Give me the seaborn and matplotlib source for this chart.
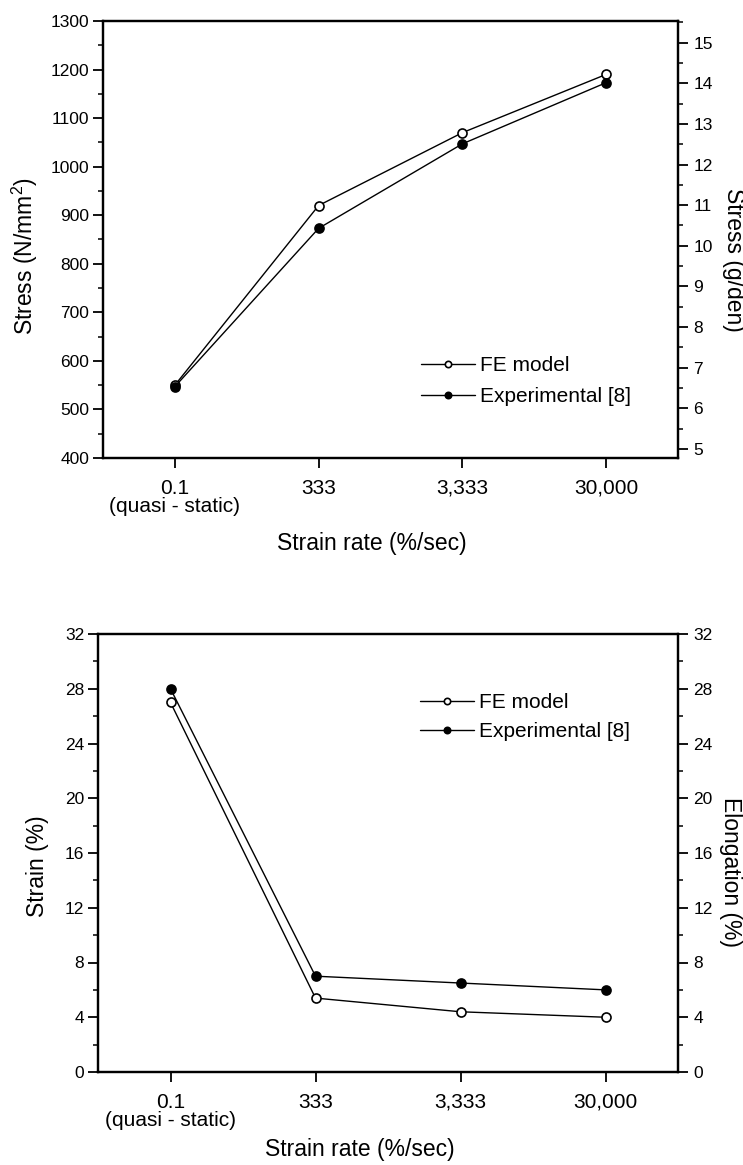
import matplotlib
matplotlib.use("Agg")
import matplotlib.pyplot as plt
import seaborn as sns
from matplotlib.ticker import MultipleLocator, FixedLocator

# Strain-rate categories (evenly spaced on the x axis)
rate_labels = ["0.1\n(quasi - static)", "333", "3,333", "30,000"]
rate_pos = [0, 1, 2, 3]

# Peak stress, N/mm^2
stress_fe = [550, 920, 1070, 1190]
stress_exp = [547, 873, 1047, 1173]

# Strain at break, %
strain_fe = [27.0, 5.4, 4.4, 4.0]
strain_exp = [28.0, 7.0, 6.5, 6.0]

# Conversion between N/mm^2 and g/den for the secondary stress axis
NMM2_PER_GDEN = 83.7

sns.set_style("ticks")
plt.rcParams["font.family"] = ["Liberation Sans", "DejaVu Sans"]
plt.rcParams["mathtext.fontset"] = "custom"
plt.rcParams["mathtext.rm"] = "Liberation Sans"
plt.rcParams["mathtext.it"] = "Liberation Sans"
for key in ("text.color", "axes.labelcolor", "xtick.color", "ytick.color",
            "axes.edgecolor"):
    plt.rcParams[key] = "black"

W, H = 743, 1165
fig = plt.figure(figsize=(W / 100, H / 100), dpi=100)
fig.patch.set_facecolor("white")

LW_SPINE = 1.6
TICK_FS = 12.5
XTICK_FS = 15
LABEL_FS = 16.5
LEG_FS = 15


def draw_series(ax, fe, exp):
    sns.lineplot(x=rate_pos, y=fe, ax=ax, color="black", linewidth=1.0,
                 marker="o", markersize=6.5, markerfacecolor="white",
                 markeredgecolor="black", markeredgewidth=1.2,
                 label="FE model", zorder=3)
    sns.lineplot(x=rate_pos, y=exp, ax=ax, color="black", linewidth=1.0,
                 marker="o", markersize=6.5, markerfacecolor="black",
                 markeredgecolor="black", markeredgewidth=1.2,
                 label="Experimental [8]", zorder=4)


def style_axes(ax, ax2):
    for a in (ax, ax2):
        for s in a.spines.values():
            s.set_linewidth(LW_SPINE)
            s.set_color("black")
            s.set_visible(True)
        a.set_facecolor("none")
    ax.set_xlim(-0.5, 3.5)
    ax.xaxis.set_major_locator(FixedLocator(rate_pos))
    ax.set_xticklabels(rate_labels, fontsize=XTICK_FS, linespacing=0.95)
    ax.tick_params(axis="x", which="major", direction="out", length=7,
                   width=1.3, pad=8, top=False, bottom=True, colors="black")
    ax.tick_params(axis="x", which="minor", bottom=False, top=False)
    ax.tick_params(axis="y", which="major", direction="out", length=7,
                   width=1.3, labelsize=TICK_FS, left=True, right=False,
                   pad=3, colors="black")
    ax.tick_params(axis="y", which="minor", direction="out", length=3.5,
                   width=1.1, left=True, right=False, colors="black")
    ax2.tick_params(axis="y", which="major", direction="out", length=7,
                    width=1.3, labelsize=TICK_FS, right=True, left=False,
                    pad=4, colors="black")
    ax2.tick_params(axis="y", which="minor", direction="out", length=3.5,
                    width=1.1, right=True, left=False, colors="black")


def place_legend(ax, x_px, y_px, spacing):
    leg = ax.legend(loc="upper left",
                    bbox_to_anchor=(x_px / W, 1 - y_px / H),
                    bbox_transform=fig.transFigure,
                    frameon=False, fontsize=LEG_FS, borderpad=0,
                    borderaxespad=0, handlelength=2.6, handletextpad=0.25,
                    labelspacing=spacing, markerscale=0.7)
    for t in leg.get_texts():
        t.set_color("black")
    return leg


# ---------------- Stress panel ----------------
ax1 = fig.add_axes([103 / W, 1 - 458 / H, (678 - 103) / W, (458 - 21) / H])
draw_series(ax1, stress_fe, stress_exp)
ax1.set_ylim(400, 1300)
ax1.yaxis.set_major_locator(MultipleLocator(100))
ax1.yaxis.set_minor_locator(MultipleLocator(50))
ax1r = ax1.twinx()
ax1r.set_ylim(400 / NMM2_PER_GDEN, 1300 / NMM2_PER_GDEN)
ax1r.yaxis.set_major_locator(MultipleLocator(1))
ax1r.yaxis.set_minor_locator(MultipleLocator(0.5))
style_axes(ax1, ax1r)
ax1.set_ylabel(r"Stress (N/mm$^2$)", fontsize=LABEL_FS, va="center")
ax1.yaxis.set_label_coords(-0.136, 0.462)
ax1r.set_ylabel("Stress (g/den)", fontsize=LABEL_FS, rotation=270, va="center")
ax1r.yaxis.set_label_coords(1.096, 0.453)
ax1.set_xlabel("Strain rate (%/sec)", fontsize=LABEL_FS, va="center")
ax1.xaxis.set_label_coords(0.468, -0.195)
place_legend(ax1, 421, 356, 0.6)

# ---------------- Strain panel ----------------
ax2 = fig.add_axes([98 / W, 1 - 1072 / H, (678 - 98) / W, (1072 - 634) / H])
draw_series(ax2, strain_fe, strain_exp)
ax2.set_ylim(0, 32)
ax2.yaxis.set_major_locator(MultipleLocator(4))
ax2.yaxis.set_minor_locator(MultipleLocator(2))
ax2r = ax2.twinx()
ax2r.set_ylim(0, 32)
ax2r.yaxis.set_major_locator(MultipleLocator(4))
ax2r.yaxis.set_minor_locator(MultipleLocator(2))
style_axes(ax2, ax2r)
ax2.set_ylabel("Strain (%)", fontsize=LABEL_FS, va="center")
ax2.yaxis.set_label_coords(-0.105, 0.470)
ax2r.set_ylabel("Elongation (%)", fontsize=LABEL_FS, rotation=270, va="center")
ax2r.yaxis.set_label_coords(1.090, 0.457)
ax2.set_xlabel("Strain rate (%/sec)", fontsize=LABEL_FS, va="center")
ax2.xaxis.set_label_coords(0.452, -0.178)
place_legend(ax2, 420, 693, 0.5)

fig.savefig("out.png", dpi=100, facecolor="white")
